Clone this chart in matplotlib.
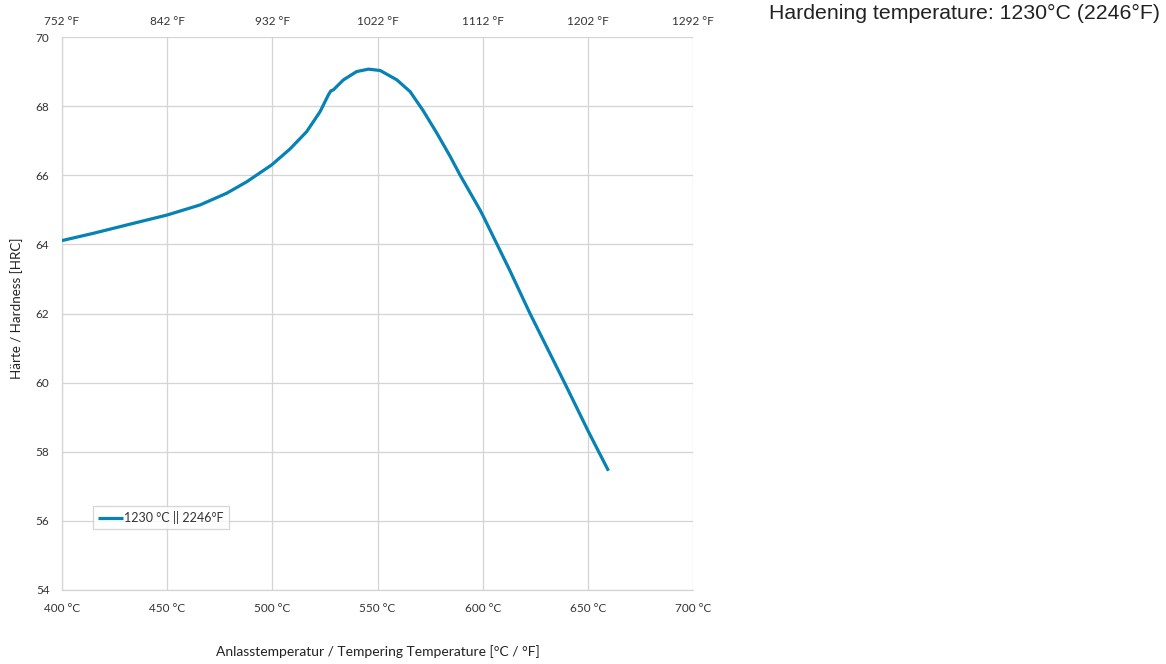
import matplotlib.pyplot as plt

# Tempering curve
temp_c = [400, 414.9, 430.7, 450, 465.6, 478.3, 487.8, 499.7, 508.4, 516.3, 522.7, 526.6,
          527.8, 529, 533.8, 540.1, 545.7, 551.3, 559.2, 565.5, 571.8, 578.2, 584.5, 589.3,
          598.8, 600.4, 612.8, 622.5, 639.3, 650.3, 655, 659.8]
hardness = [64.11, 64.32, 64.56, 64.85, 65.14, 65.48, 65.81, 66.30, 66.76, 67.26, 67.84, 68.32,
            68.44, 68.47, 68.76, 69.00, 69.07, 69.03, 68.76, 68.42, 67.86, 67.22, 66.55, 66.00,
            64.99, 64.80, 63.26, 62.00, 59.95, 58.58, 58.02, 57.45]

x_ticks = [400, 450, 500, 550, 600, 650, 700]
x_labels = ["400 °C", "450 °C", "500 °C", "550 °C", "600 °C", "650 °C", "700 °C"]
top_labels = ["752 °F", "842 °F", "932 °F", "1022 °F", "1112 °F", "1202 °F", "1292 °F"]
y_ticks = [54, 56, 58, 60, 62, 64, 66, 68, 70]

line_color = "#0682b4"
grid_color = "#d4d4d4"
text_color = "#333333"

plt.rcParams['font.family'] = ['Lato', 'DejaVu Sans']

fig = plt.figure(figsize=(11.66, 6.64), dpi=100)
ax = fig.add_axes([62 / 1166, 74 / 664, 631 / 1166, 553 / 664])

ax.plot(temp_c, hardness, color=line_color, linewidth=2.3, label="1230 °C || 2246°F",
        solid_capstyle="butt", solid_joinstyle="round", zorder=3)

ax.set_xlim(400, 700)
ax.set_ylim(54, 70)
ax.set_xticks(x_ticks)
ax.set_xticklabels(x_labels)
ax.set_yticks(y_ticks)
ax.grid(True, color=grid_color, linewidth=0.9)
ax.tick_params(length=0, labelsize=8.5, colors=text_color, pad=9)
ax.tick_params(axis="y", pad=9)

for side in ["top", "right"]:
    ax.spines[side].set_visible(False)
for side in ["left", "bottom"]:
    ax.spines[side].set_color(grid_color)
    ax.spines[side].set_linewidth(0.9)

# Fahrenheit labels on top
ax_top = ax.twiny()
ax_top.set_xlim(ax.get_xlim())
ax_top.set_xticks(x_ticks)
ax_top.set_xticklabels(top_labels)
ax_top.tick_params(length=0, labelsize=8.5, colors=text_color, pad=7)
for side in ax_top.spines:
    ax_top.spines[side].set_visible(False)

ax.set_xlabel("Anlasstemperatur / Tempering Temperature [°C / °F]", fontsize=10,
              color="#222222", labelpad=23)
ax.set_ylabel("Härte / Hardness [HRC]", fontsize=9.6, color="#222222")
ax.yaxis.set_label_coords(-0.061, 0.51)

leg = ax.legend(loc="lower left", bbox_to_anchor=(0.049, 0.110), fontsize=9,
                frameon=True, fancybox=False, handlelength=2.0, handletextpad=0.1,
                borderpad=0.4, borderaxespad=0)
leg.get_frame().set_edgecolor("#cccccc")
leg.get_frame().set_linewidth(0.9)
for t in leg.get_texts():
    t.set_color(text_color)

fig.text(0.995, 0.979, "Hardening temperature: 1230°C (2246°F)", fontsize=15.3,
         family="Liberation Sans", color="#222222", ha="right", va="center")

fig.savefig("out.png", dpi=100)
